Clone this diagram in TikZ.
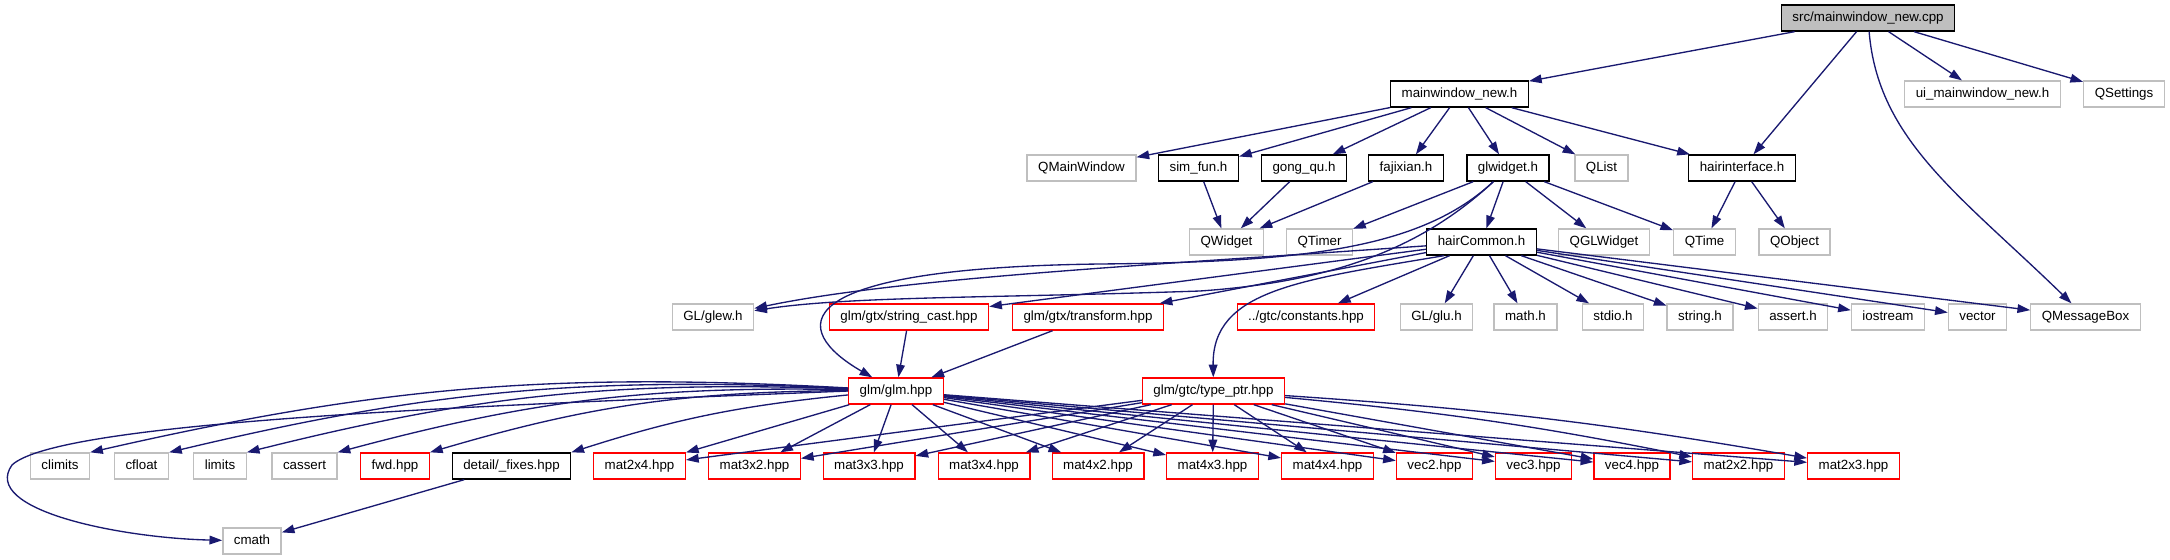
\documentclass[tikz,border=0pt]{standalone}
\usepackage{fontspec}
\setmainfont{Liberation Sans}
\usepackage{xcolor}
\definecolor{edgeblue}{RGB}{25, 25, 112}
\definecolor{boxgray}{RGB}{191, 191, 191}
\usepackage{tikz}
\usetikzlibrary{arrows.meta}

\begin{document}
\begin{tikzpicture}[x=0.75pt, y=-0.75pt, font=\fontsize{10pt}{12pt}\selectfont]
  \tikzstyle{incfile} = [rectangle, draw=black, fill=white, line width=1pt, minimum height=19.5pt, inner xsep=8.25pt, inner ysep=0pt, text height=7.5pt, text depth=2pt]
  \tikzstyle{sysfile} = [incfile, draw=boxgray]
  \tikzstyle{redfile} = [incfile, draw=red]
  \tikzstyle{rootfile} = [incfile, fill=boxgray]
  \tikzstyle{arrow} = [draw=edgeblue, line width=1pt, -{Triangle[length=9.5pt, width=6.5pt]}]

  \useasboundingbox (0,0) rectangle (2170,560);

  \node [rootfile] (root) at (1868,18) {src/mainwindow\_new.cpp};

  \node [incfile] (mwh) at (1459.5,94) {mainwindow\_new.h};
  \node [sysfile] (uih) at (1982.5,94) {ui\_mainwindow\_new.h};
  \node [sysfile] (qsettings) at (2124,94) {QSettings};

  \node [sysfile] (qmainwindow) at (1081.5,168) {QMainWindow};
  \node [incfile] (simfun) at (1198.5,168) {sim\_fun.h};
  \node [incfile] (gongqu) at (1304,168) {gong\_qu.h};
  \node [incfile] (fajixian) at (1406,168) {fajixian.h};
  \node [incfile] (glwidget) at (1508,168) {glwidget.h};
  \node [sysfile] (qlist) at (1601.5,168) {QList};
  \node [incfile] (hairif) at (1742,168) {hairinterface.h};

  \node [sysfile] (qwidget) at (1226.5,242) {QWidget};
  \node [sysfile] (qtimer) at (1319.5,242) {QTimer};
  \node [incfile] (haircommon) at (1481.5,242) {hairCommon.h};
  \node [sysfile] (qglwidget) at (1604,242) {QGLWidget};
  \node [sysfile] (qtime) at (1704.5,242) {QTime};
  \node [sysfile] (qobject) at (1794.5,242) {QObject};

  \node [sysfile] (glew) at (713,317) {GL/glew.h};
  \node [redfile] (strcast) at (909,317) {glm/gtx/string\_cast.hpp};
  \node [redfile] (transform) at (1088,317) {glm/gtx/transform.hpp};
  \node [redfile] (constants) at (1306,317) {../gtc/constants.hpp};
  \node [sysfile] (glu) at (1436.5,317) {GL/glu.h};
  \node [sysfile] (mathh) at (1525.5,317) {math.h};
  \node [sysfile] (stdioh) at (1613,317) {stdio.h};
  \node [sysfile] (stringh) at (1700,317) {string.h};
  \node [sysfile] (asserth) at (1793,317) {assert.h};
  \node [sysfile] (iostream) at (1888,317) {iostream};
  \node [sysfile] (vector) at (1977.5,317) {vector};
  \node [sysfile] (qmsgbox) at (2085.5,317) {QMessageBox};

  \node [redfile] (glm) at (896,391) {glm/glm.hpp};
  \node [redfile] (typeptr) at (1213.5,391) {glm/gtc/type\_ptr.hpp};

  \node [sysfile] (climits) at (60,466) {climits};
  \node [sysfile] (cfloat) at (141.5,466) {cfloat};
  \node [sysfile] (limits) at (220,466) {limits};
  \node [sysfile] (cassert) at (304.5,466) {cassert};
  \node [redfile] (fwd) at (395,466) {fwd.hpp};
  \node [incfile] (fixes) at (511.5,466) {detail/\_fixes.hpp};
  \node [redfile] (m24) at (639.5,466) {mat2x4.hpp};
  \node [redfile] (m32) at (754.5,466) {mat3x2.hpp};
  \node [redfile] (m33) at (869,466) {mat3x3.hpp};
  \node [redfile] (m34) at (984,466) {mat3x4.hpp};
  \node [redfile] (m42) at (1098,466) {mat4x2.hpp};
  \node [redfile] (m43) at (1212.5,466) {mat4x3.hpp};
  \node [redfile] (m44) at (1327.5,466) {mat4x4.hpp};
  \node [redfile] (v2) at (1434.5,466) {vec2.hpp};
  \node [redfile] (v3) at (1533.5,466) {vec3.hpp};
  \node [redfile] (v4) at (1632,466) {vec4.hpp};
  \node [redfile] (m22) at (1738.5,466) {mat2x2.hpp};
  \node [redfile] (m23) at (1853.5,466) {mat2x3.hpp};

  \node [sysfile] (cmath) at (252,541) {cmath};

  % src/mainwindow_new.cpp
  \draw [arrow] (root) -- (mwh);
  \draw [arrow] (root) -- (hairif);
  \draw [arrow] (root) .. controls (1878,140) and (1960,195) .. (qmsgbox);
  \draw [arrow] (root) -- (uih);
  \draw [arrow] (root) -- (qsettings);

  % mainwindow_new.h
  \draw [arrow] (mwh) -- (qmainwindow);
  \draw [arrow] (mwh) -- (simfun);
  \draw [arrow] (mwh) -- (gongqu);
  \draw [arrow] (mwh) -- (fajixian);
  \draw [arrow] (mwh) -- (glwidget);
  \draw [arrow] (mwh) -- (qlist);
  \draw [arrow] (mwh) -- (hairif);

  \draw [arrow] (simfun) -- (qwidget);
  \draw [arrow] (gongqu) -- (qwidget);
  \draw [arrow] (fajixian) -- (qwidget);

  % glwidget.h
  \draw [arrow] (glwidget) -- (qtimer);
  \draw [arrow] (glwidget) -- (haircommon);
  \draw [arrow] (glwidget) -- (qglwidget);
  \draw [arrow] (glwidget) -- (qtime);
  \draw [arrow] (glwidget) .. controls (1420,250) and (1300,262) .. (1100,264) .. controls (780,268) and (790,330) .. (glm);
  \draw [arrow] (glwidget) .. controls (1420,250) and (1330,282) .. (1200,291) .. controls (1000,298) and (850,296) .. (glew);

  \draw [arrow] (hairif) -- (qtime);
  \draw [arrow] (hairif) -- (qobject);

  % hairCommon.h
  \draw [arrow] (haircommon) .. controls (1150,265) and (900,278) .. (glew);
  \draw [arrow] (haircommon) -- (strcast);
  \draw [arrow] (haircommon) -- (transform);
  \draw [arrow] (haircommon) -- (constants);
  \draw [arrow] (haircommon.200) .. controls (1300,280) and (1212,290) .. (typeptr);
  \draw [arrow] (haircommon) -- (glu);
  \draw [arrow] (haircommon) -- (mathh);
  \draw [arrow] (haircommon) -- (stdioh);
  \draw [arrow] (haircommon) -- (stringh);
  \draw [arrow] (haircommon) -- (asserth);
  \draw [arrow] (haircommon) -- (iostream);
  \draw [arrow] (haircommon) -- (vector);
  \draw [arrow] (haircommon) -- (qmsgbox);

  \draw [arrow] (strcast) -- (glm);
  \draw [arrow] (transform) -- (glm);

  % glm/glm.hpp
  \draw [arrow] (glm) to [bend right=8] (climits.north east);
  \draw [arrow] (glm) to [bend right=8] (cfloat.north east);
  \draw [arrow] (glm) to [bend right=8] (limits.north east);
  \draw [arrow] (glm) to [bend right=8] (cassert.north east);
  \draw [arrow] (glm) to [bend right=8] (fwd.north east);
  \draw [arrow] (glm) to [bend right=6] (fixes.north east);
  \draw [arrow] (glm.west) .. controls (500,405) and (60,420) .. (12,465) .. controls (-20,510) and (120,538) .. (cmath);
  \draw [arrow] (glm) -- (m24);
  \draw [arrow] (glm) -- (m32);
  \draw [arrow] (glm) -- (m33);
  \draw [arrow] (glm) -- (m34);
  \draw [arrow] (glm) -- (m42);
  \draw [arrow] (glm) -- (m43);
  \draw [arrow] (glm) -- (m44);
  \draw [arrow] (glm) -- (v2);
  \draw [arrow] (glm) -- (v3);
  \draw [arrow] (glm) -- (v4);
  \draw [arrow] (glm) -- (m22);
  \draw [arrow] (glm) -- (m23);

  % glm/gtc/type_ptr.hpp
  \draw [arrow] (typeptr) -- (m24);
  \draw [arrow] (typeptr) -- (m32);
  \draw [arrow] (typeptr) -- (m33);
  \draw [arrow] (typeptr) -- (m34);
  \draw [arrow] (typeptr) -- (m42);
  \draw [arrow] (typeptr) -- (m43);
  \draw [arrow] (typeptr) -- (m44);
  \draw [arrow] (typeptr) -- (v2);
  \draw [arrow] (typeptr) -- (v3);
  \draw [arrow] (typeptr) -- (v4);
  \draw [arrow] (typeptr) to [bend left=3] (m22);
  \draw [arrow] (typeptr) to [bend left=3] (m23);

  \draw [arrow] (fixes) -- (cmath);
\end{tikzpicture}
\end{document}
